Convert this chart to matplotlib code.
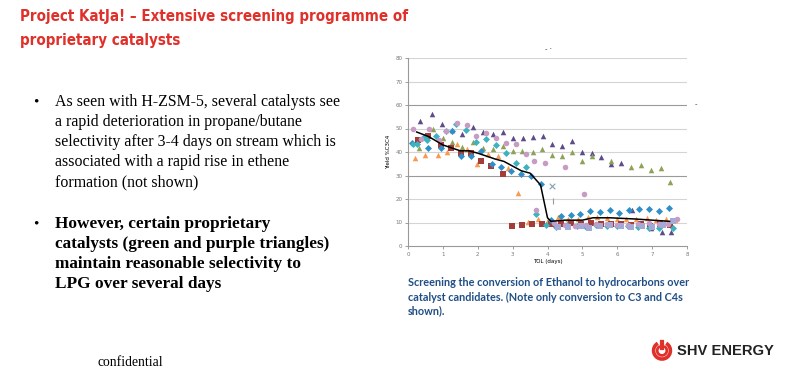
import matplotlib
matplotlib.use("Agg")
import matplotlib.pyplot as plt
from matplotlib.patches import Arc

# ---- chart data ----
purple_x = [0.33, 0.70, 0.98, 1.27, 1.56, 1.86, 2.15, 2.44, 2.72, 3.01, 3.30, 3.59, 3.87,
            4.14, 4.43, 4.71, 5.00, 5.29, 5.54, 5.83, 6.12, 6.41, 6.98, 7.27, 7.55]
purple_y = [53.0, 56.2, 51.8, 49.5, 47.7, 50.8, 48.3, 47.5, 48.7, 45.8, 46.1, 46.5, 46.8,
            43.3, 42.7, 44.7, 40.1, 39.4, 38.0, 34.7, 35.4, 15.2, 7.5, 6.0, 6.0]

olive_x = [0.32, 0.72, 1.00, 1.27, 1.56, 1.85, 2.15, 2.44, 2.72, 3.00, 3.28, 3.57, 3.85,
           4.14, 4.43, 4.69, 4.98, 5.27, 5.82, 6.40, 6.68, 6.97, 7.26, 7.52]
olive_y = [41.9, 49.7, 46.0, 44.4, 42.1, 44.1, 41.9, 41.4, 42.6, 40.4, 40.4, 40.1, 41.3,
           38.6, 38.1, 39.9, 36.2, 38.4, 36.3, 33.6, 34.3, 32.5, 33.2, 27.3]

orange_x = [0.19, 0.48, 0.86, 1.12, 1.41, 1.69, 1.98, 2.29, 2.58, 2.87, 3.15, 3.44, 3.73,
            4.02, 4.30, 4.59, 4.88, 5.16, 5.42, 5.71, 6.00, 6.26, 6.55, 6.84, 7.10, 7.39, 7.65]
orange_y = [37.3, 38.7, 38.7, 40.1, 43.3, 41.1, 35.0, 39.0, 38.3, 33.3, 22.6, 10.2, 11.7,
            11.0, 12.4, 11.7, 11.4, 12.4, 12.4, 12.0, 11.7, 11.4, 11.4, 12.0, 11.1, 11.7, 11.0]

red_x = [0.29, 0.57, 0.96, 1.24, 1.53, 1.82, 2.10, 2.39, 2.71, 2.98, 3.27, 3.56, 3.84,
         4.11, 4.40, 4.68, 4.97, 5.26, 5.53, 5.81, 6.10, 6.39, 6.67, 6.94, 7.23, 7.51]
red_y = [45.3, 47.0, 43.0, 41.6, 39.4, 39.7, 36.0, 34.2, 30.5, 8.7, 9.0, 9.3, 9.3,
         9.5, 9.3, 10.0, 9.3, 10.0, 9.5, 9.5, 9.5, 8.8, 9.5, 8.5, 9.3, 9.0]

blue_x = [0.11, 0.57, 0.96, 1.25, 1.53, 1.82, 2.10, 2.40, 2.68, 2.96, 3.25, 3.54, 3.80,
          4.10, 4.38, 4.67, 4.92, 5.21, 5.50, 5.78, 6.05, 6.34, 6.63, 6.91, 7.20, 7.49]
blue_y = [44.0, 41.6, 41.9, 49.0, 38.3, 38.3, 40.5, 35.0, 33.7, 31.9, 30.6, 29.8, 26.2,
          11.0, 12.7, 13.1, 13.7, 14.8, 14.5, 15.2, 14.1, 15.2, 15.9, 15.7, 15.1, 16.2]

teal_x = [0.13, 0.25, 0.45, 0.55, 0.80, 1.10, 1.39, 1.67, 1.96, 2.23, 2.53, 2.82, 3.10,
          3.39, 3.66, 3.95, 4.25, 4.55, 4.85, 5.10, 5.40, 5.70, 6.00, 6.30, 6.60, 6.90,
          7.20, 7.60]
teal_y = [43.6, 43.3, 46.5, 45.0, 47.0, 49.0, 52.0, 49.4, 44.4, 45.4, 43.0, 39.4, 35.5,
          33.7, 13.8, 8.8, 8.0, 9.0, 8.5, 8.0, 8.8, 8.5, 8.3, 8.3, 8.0, 7.8, 7.5, 7.8]

pink_x = [0.14, 0.38, 0.60, 0.90, 1.10, 1.41, 1.69, 1.96, 2.23, 2.53, 2.82, 3.11, 3.37,
          3.60, 3.92, 4.49, 5.05, 3.68, 4.20, 4.50, 4.80, 5.10, 5.40, 5.70, 6.00, 6.30,
          6.60, 6.90, 7.20, 7.45, 7.70]
pink_y = [49.8, 45.5, 50.0, 45.0, 49.0, 52.2, 51.5, 47.0, 48.1, 46.1, 44.0, 43.4, 39.1,
          36.0, 35.2, 33.7, 22.3, 15.5, 10.0, 9.0, 8.5, 9.0, 9.5, 9.5, 9.0, 9.0,
          9.5, 10.0, 9.5, 9.5, 11.5]

lav_x = [4.30, 4.60, 4.95, 5.20, 5.50, 5.80, 6.10, 6.40, 6.70, 7.00, 7.30, 7.60]
lav_y = [8.0, 8.0, 8.5, 7.5, 8.5, 9.0, 8.5, 8.0, 8.5, 8.0, 9.0, 10.5]

grey_x_x, grey_x_y = [4.14], [25.5]
grey_plus_x, grey_plus_y = [4.17], [19.0]

trend_x = [0.25, 0.60, 1.00, 1.50, 1.75, 2.00, 2.50, 2.75, 3.00, 3.25, 3.50, 3.80,
           4.00, 4.10, 4.50, 5.00, 5.30, 5.80, 6.50, 7.00, 7.50]
trend_y = [48.5, 46.5, 43.0, 40.5, 40.5, 39.5, 37.0, 36.0, 34.0, 32.0, 31.0, 26.0,
           12.0, 10.5, 11.0, 11.0, 12.0, 12.0, 11.5, 11.0, 10.5]

y_ticks = [0, 10, 20, 30, 40, 50, 60, 70, 80]
x_ticks = [0, 1, 2, 3, 4, 5, 6, 7, 8]

RED = "#E0302A"
W, H = 800, 373


def fx(px):
    return px / W


def fy(py):
    return 1 - py / H


fig = plt.figure(figsize=(8, 3.73), dpi=100)
fig.patch.set_facecolor("white")

# ---- slide text ----
for yy, line in [(16, "Project KatJa! – Extensive screening programme of"),
                 (40, "proprietary catalysts")]:
    fig.text(fx(20), fy(yy), line, family="DejaVu Sans", stretch="condensed",
             weight="bold", fontsize=10.8, color=RED, va="center")

serif = "Liberation Serif"
b1 = ["As seen with H-ZSM-5, several catalysts see",
      "a rapid deterioration in propane/butane",
      "selectivity after 3-4 days on stream which is",
      "associated with a rapid rise in ethene",
      "formation (not shown)"]
b2 = ["However, certain proprietary",
      "catalysts (green and purple triangles)",
      "maintain reasonable selectivity to",
      "LPG over several days"]
fig.text(fx(33), fy(102), "•", family=serif, fontsize=11, va="center")
for i, line in enumerate(b1):
    fig.text(fx(55), fy(102 + 20 * i), line, family=serif, fontsize=11.4, va="center")
fig.text(fx(33), fy(224), "•", family=serif, fontsize=11, va="center")
for i, line in enumerate(b2):
    fig.text(fx(55), fy(224 + 20 * i), line, family=serif, fontsize=12.4,
             weight="bold", va="center")

fig.text(fx(97), fy(362), "confidential", family=serif, fontsize=9.8, va="center")

cap = ["Screening the conversion of Ethanol to hydrocarbons over",
       "catalyst candidates. (Note only conversion to C3 and C4s",
       "shown)."]
for i, line in enumerate(cap):
    fig.text(fx(408), fy(283 + 14 * i), line, family="Lato", weight="bold",
             fontsize=7.8, color="#1F4E85", va="center")

# stray marks on the pasted chart image
fig.text(fx(545), fy(49), "- ·", fontsize=5, color="#333333", va="center")
fig.text(fx(695), fy(104), "-", fontsize=5, color="#333333", va="center")

# ---- logo ----
lax = fig.add_axes([fx(650), fy(362), fx(24), 24 / H])
lax.set_xlim(-1, 1); lax.set_ylim(-1, 1); lax.set_aspect("equal"); lax.axis("off")
lax.add_patch(Arc((0, -0.05), 1.4, 1.4, theta1=120, theta2=60, lw=2.6, color=RED))
lax.add_patch(Arc((0, -0.05), 0.8, 0.8, theta1=115, theta2=65, lw=2.0, color=RED))
lax.plot([-0.12, -0.12], [0.1, 0.75], color=RED, lw=1.6)
lax.plot([0.12, 0.12], [0.1, 0.75], color=RED, lw=1.6)
fig.text(fx(677), fy(351), "SHV ENERGY", family="Liberation Sans", weight="bold",
         fontsize=10.6, color="#222222", va="center")

# ---- chart ----
ax = fig.add_axes([fx(408), fy(246), fx(687 - 408), (246 - 58) / H])
for y in y_ticks[1:]:
    c = "#9a9a9a" if y in (30, 60) else "#d4d4d4"
    ax.axhline(y, color=c, lw=0.8, zorder=0)

ms = 16
ax.scatter(purple_x, purple_y, marker="^", s=ms, color="#5E4B8A", lw=0, zorder=3)
ax.scatter(olive_x, olive_y, marker="^", s=ms, color="#8EA257", lw=0, zorder=3)
ax.scatter(orange_x, orange_y, marker="^", s=ms, color="#F59A4E", lw=0, zorder=3)
ax.scatter(red_x, red_y, marker="s", s=ms, color="#A43C39", lw=0, zorder=3)
ax.scatter(blue_x, blue_y, marker="D", s=ms * 0.8, color="#2F8FC8", lw=0, zorder=3)
ax.scatter(teal_x, teal_y, marker="D", s=ms * 0.8, color="#3DB3C0", lw=0, zorder=3)
ax.scatter(pink_x, pink_y, marker="o", s=ms, color="#C79BC4", lw=0, zorder=3)
ax.scatter(lav_x, lav_y, marker="s", s=ms, color="#A6A8D6", lw=0, zorder=3)
ax.scatter(grey_x_x, grey_x_y, marker="x", s=ms, color="#7F9FB0", lw=0.8, zorder=3)
ax.scatter(grey_plus_x, grey_plus_y, marker="|", s=ms, color="#9A9A9A", lw=0.8, zorder=3)
ax.plot(trend_x, trend_y, color="black", lw=1.1, zorder=4)

ax.set_xlim(0, 8)
ax.set_ylim(0, 80)
ax.set_xticks(x_ticks)
ax.set_yticks(y_ticks)
ax.tick_params(labelsize=4, colors="#777777", length=2, width=0.5, pad=2)
for s in ("top", "right"):
    ax.spines[s].set_visible(False)
for s in ("left", "bottom"):
    ax.spines[s].set_color("#999999")
    ax.spines[s].set_linewidth(0.8)
ax.set_ylabel("Yield %C3C4", fontsize=4, labelpad=3)
ax.set_xlabel("TOL (days)", fontsize=4, labelpad=2)

fig.savefig("out.png", dpi=100)
